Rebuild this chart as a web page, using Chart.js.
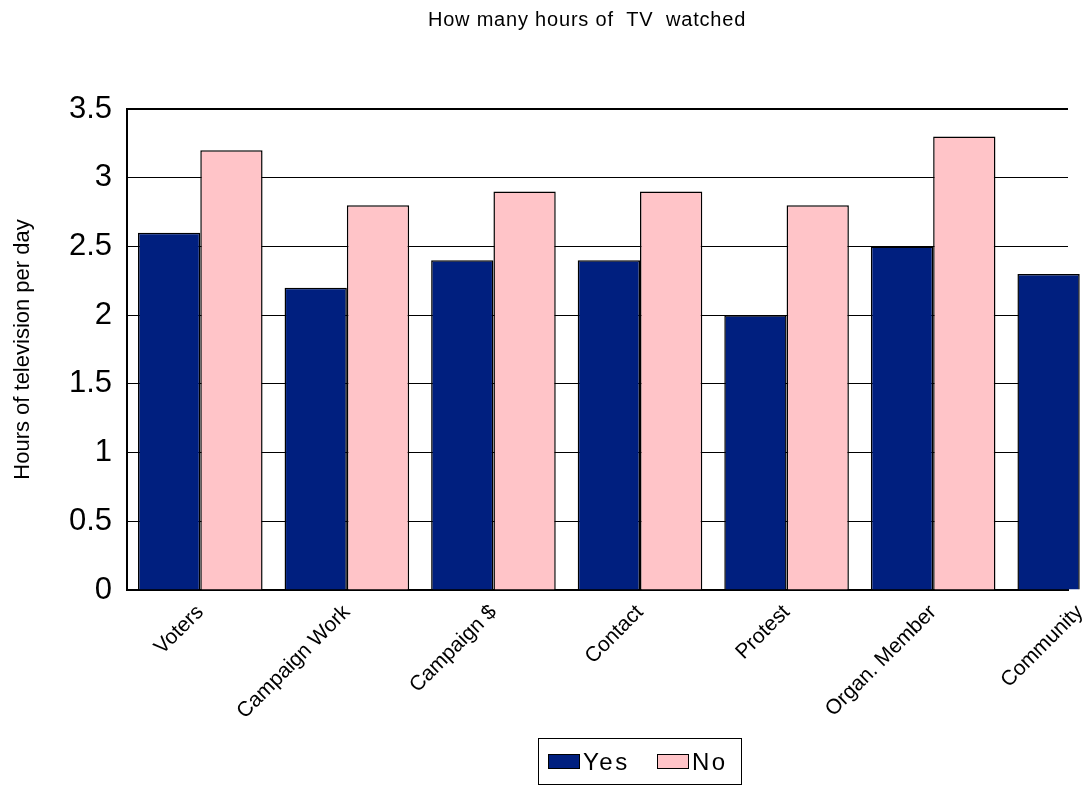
<!DOCTYPE html>
<html>
<head>
<meta charset="utf-8">
<script src="https://cdn.jsdelivr.net/npm/chart.js@4/dist/chart.umd.min.js"></script>
<style>
  html, body { margin: 0; padding: 0; background: #ffffff; overflow: hidden; }
  #wrap { position: relative; width: 1083px; height: 787px; overflow: hidden; }
  #chart { position: absolute; left: 0; top: 0; }
  #title {
    position: absolute; left: 0; width: 1174px; top: 9px; text-align: center;
    font: 20px "Liberation Sans", Arial, sans-serif; color: #000; white-space: pre;
    letter-spacing: 0.8px; line-height: 1;
  }
  #legend {
    position: absolute; left: 538px; top: 738px; width: 202px; height: 45px;
    border: 1.5px solid #000; box-sizing: content-box;
    font: 24px "Liberation Sans", Arial, sans-serif; color: #000;
  }
  .item { position: absolute; top: 0; height: 45px; display: flex; align-items: center; letter-spacing: 2.5px; }
  .swatch { width: 30px; height: 13px; border: 1px solid #000; margin-right: 3px; }
</style>
</head>
<body>
<div id="wrap">
  <canvas id="chart" width="1083" height="787"></canvas>
  <div id="title">How many hours of  TV  watched</div>
  <div id="legend"></div>
</div>
<script>
// Groups of respondents and mean daily TV hours
const categories = ['Voters', 'Campaign Work', 'Campaign $', 'Contact', 'Protest', 'Organ. Member', 'Community'];
const yesHours = [2.6, 2.2, 2.4, 2.4, 2.0, 2.5, 2.3];
const noHours  = [3.2, 2.8, 2.9, 2.9, 2.8, 3.3, null];
const yTicks   = [0, 0.5, 1, 1.5, 2, 2.5, 3, 3.5];

const seriesNames  = ['Yes', 'No'];
const seriesColors = ['#001f7f', '#ffc4c8'];

const FONT = '"Liberation Sans", Arial, sans-serif';

const toPoints = (vals) => vals.map((v, i) => ({ x: i, y: v }));

const chart = new Chart(document.getElementById('chart'), {
  type: 'bar',
  data: {
    datasets: [
      { label: seriesNames[0], data: toPoints(yesHours), backgroundColor: seriesColors[0],
        borderColor: '#000', borderWidth: 1.5, clip: false },
      { label: seriesNames[1], data: toPoints(noHours), backgroundColor: seriesColors[1],
        borderColor: '#000', borderWidth: 1.5, clip: false }
    ]
  },
  options: {
    responsive: false,
    animation: false,
    events: [],
    categoryPercentage: 0.85,
    barPercentage: 1.0,
    layout: { padding: { top: 109, left: 0, right: 15, bottom: 0 } },
    plugins: { legend: { display: false }, tooltip: { enabled: false }, title: { display: false } },
    scales: {
      x: {
        type: 'linear',
        offset: false,
        min: -0.5,
        max: 5.92,
        afterBuildTicks: (s) => { s.ticks = categories.map((_, i) => ({ value: i })); },
        afterFit: (s) => { s.height = 197; s.paddingLeft = 0; s.paddingRight = 0; },
        grid: { display: true, offset: false, drawOnChartArea: false, drawTicks: false, color: 'rgba(0,0,0,0)' },
        border: { display: true, color: '#000', width: 2 },
        ticks: {
          autoSkip: false,
          minRotation: 45,
          maxRotation: 45,
          padding: 10,
          color: '#000',
          font: { family: FONT, size: 21 },
          callback: (v) => categories[v]
        }
      },
      y: {
        min: 0,
        max: 3.5,
        afterBuildTicks: (s) => { s.ticks = yTicks.map((v) => ({ value: v })); },
        afterFit: (s) => { s.width = 127; },
        grid: {
          drawTicks: false,
          color: '#000',
          lineWidth: (ctx) => (ctx.tick && ctx.tick.value === 3.5 ? 2 : 1)
        },
        border: { display: true, color: '#000', width: 2 },
        ticks: {
          padding: 15,
          color: '#000',
          font: { family: FONT, size: 31 },
          callback: (v) => String(v)
        },
        title: {
          display: true,
          text: 'Hours of television per day',
          color: '#000',
          font: { family: FONT, size: 22 },
          padding: { top: 10, bottom: 0 }
        }
      }
    }
  }
});

// Legend built from the chart's datasets
const legendEl = document.getElementById('legend');
const legendOffsets = [9, 118];
chart.data.datasets.forEach((ds, i) => {
  const item = document.createElement('div');
  item.className = 'item';
  item.style.left = legendOffsets[i] + 'px';
  const sw = document.createElement('span');
  sw.className = 'swatch';
  sw.style.background = ds.backgroundColor;
  const label = document.createElement('span');
  label.textContent = ds.label;
  item.appendChild(sw);
  item.appendChild(label);
  legendEl.appendChild(item);
});
</script>
</body>
</html>
